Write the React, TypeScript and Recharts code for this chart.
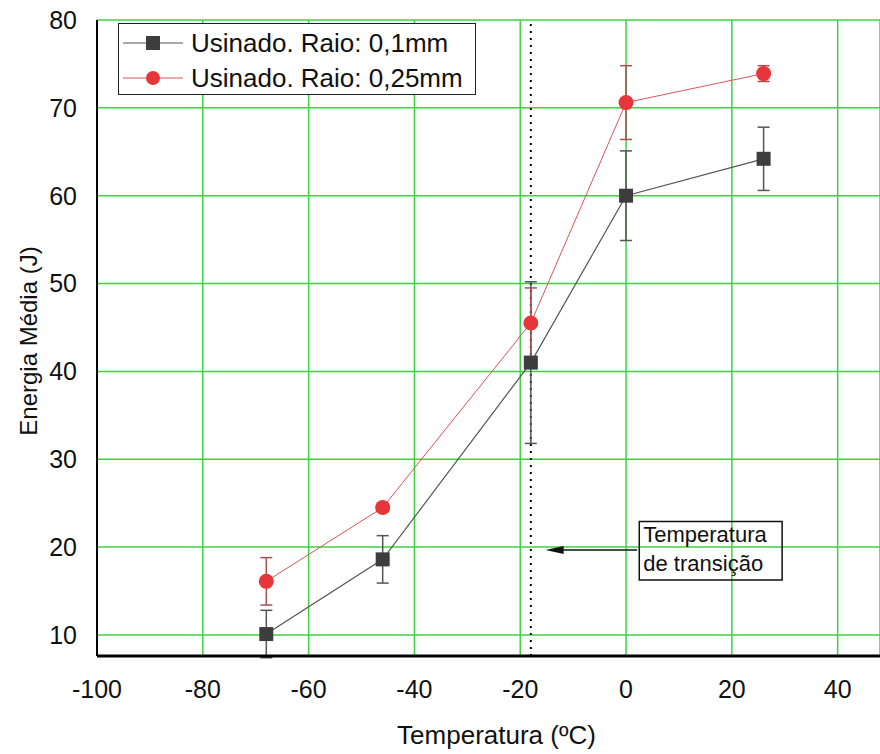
import React from 'react';
import { LineChart, Line, XAxis, YAxis, CartesianGrid, ErrorBar, ReferenceLine, ReferenceArea, Legend } from 'recharts';

const temps = [-68, -46, -18, 0, 26];
const energy01 = [10.1, 18.6, 41, 60, 64.2];
const err01 = [2.7, 2.7, 9.2, 5.1, 3.6];
const energy025 = [16.1, 24.5, 45.5, 70.6, 73.9];
const err025 = [2.7, 0.5, 4, 4.2, 0.9];
const xTicks = [-100, -80, -60, -40, -20, 0, 20, 40];
const yTicks = [10, 20, 30, 40, 50, 60, 70, 80];
const yGrid = [10, 20, 30, 40, 50, 60, 70];
const seriesNames = ['Usinado. Raio: 0,1mm', 'Usinado. Raio: 0,25mm'];
const transitionTemp = -18;
const noteLines = ['Temperatura', 'de transição'];

const data = temps.map((t, i) => ({ t, a: energy01[i], ea: err01[i], b: energy025[i], eb: err025[i] }));

const FONT = '"Liberation Sans", Arial, sans-serif';
const GREEN = '#3fd23f';
const DARK = '#3d3d3d';
const RED = '#e8353a';

const Square = (p: any) => {
  if (p.cx == null) return null;
  return <rect key={p.key} x={p.cx - 7} y={p.cy - 7} width={14} height={14} fill={DARK} />;
};
const Dot = (p: any) => {
  if (p.cx == null) return null;
  return <circle key={p.key} cx={p.cx} cy={p.cy} r={7.5} fill={RED} />;
};

const Arrow = (p: any) => {
  const { x1, y1, x2, y2 } = p;
  const tip = Math.min(x1, x2);
  const start = Math.max(x1, x2);
  return (
    <g>
      <line x1={start} y1={y1} x2={tip + 10} y2={y2} stroke="#111" strokeWidth={1.5} />
      <polygon points={`${tip},${y2} ${tip + 18},${y2 - 4} ${tip + 18},${y2 + 4}`} fill="#111" />
    </g>
  );
};

const LegendBox = () => (
  <div style={{ border: '1.5px solid #222', background: '#fff', width: 358, height: 72, boxSizing: 'border-box', fontFamily: FONT, fontSize: 26, color: '#111', paddingTop: 1 }}>
    {seriesNames.map((name, i) => (
      <div key={name} style={{ display: 'flex', alignItems: 'center', height: 35 }}>
        <svg width={70} height={20} style={{ flex: 'none' }}>
          <line x1={4} y1={10} x2={64} y2={10} stroke={i === 0 ? '#555' : '#d9545a'} strokeWidth={1.2} />
          {i === 0 ? <rect x={27} y={3} width={14} height={14} fill={DARK} /> : <circle cx={34} cy={10} r={7} fill={RED} />}
        </svg>
        <span style={{ marginLeft: 2, lineHeight: 1 }}>{name}</span>
      </div>
    ))}
  </div>
);

export default function App() {
  return (
    <div style={{ position: 'absolute', left: 0, top: 0, background: '#fff' }}>
      <LineChart width={880} height={754} data={data} margin={{ top: 20, right: 0, bottom: 0, left: 0 }} style={{ fontFamily: FONT }}>
        <XAxis
          type="number"
          dataKey="t"
          domain={[-100, 48]}
          ticks={xTicks}
          interval={0}
          allowDataOverflow
          height={98}
          axisLine={{ stroke: '#000', strokeWidth: 3 }}
          tickLine={false}
          tickSize={0}
          tickMargin={24}
          tick={{ fontSize: 25, fill: '#111' }}
          label={(props: any) => {
            const vb = props.viewBox || {};
            return (
              <text x={vb.x + vb.width / 2 + 8} y={744} textAnchor="middle" fontSize={26} fill="#111" fontFamily={FONT}>
                Temperatura (ºC)
              </text>
            );
          }}
        />
        <YAxis
          type="number"
          domain={[7.6, 80]}
          ticks={yTicks}
          interval={0}
          allowDataOverflow
          width={97}
          axisLine={{ stroke: '#000', strokeWidth: 2 }}
          tickLine={false}
          tickSize={0}
          tickMargin={20}
          tick={{ fontSize: 25, fill: '#111' }}
          label={(props: any) => {
            const vb = props.viewBox || {};
            const cx = 28;
            const cy = vb.y + vb.height / 2 + 3;
            return (
              <text x={cx} y={cy} transform={`rotate(-90, ${cx}, ${cy})`} textAnchor="middle" dominantBaseline="central" fontSize={24} fill="#111" fontFamily={FONT}>
                Energia Média (J)
              </text>
            );
          }}
        />
        <YAxis yAxisId="grid" type="number" domain={[7.6, 80]} ticks={yGrid} interval={0} allowDataOverflow hide />
        <CartesianGrid yAxisId="grid" stroke={GREEN} strokeWidth={1.5} />
        <ReferenceLine x={transitionTemp} stroke="#000" strokeWidth={2} strokeDasharray="2 5" />
        <ReferenceArea
          x1={2.5}
          x2={29.5}
          y1={16.25}
          y2={22.9}
          fill="none"
          fillOpacity={0}
          stroke="#111"
          strokeWidth={1.5}
          label={(props: any) => {
            const vb = props.viewBox || {};
            return (
              <g>
                {noteLines.map((s, i) => (
                  <text key={s} x={vb.x + 4} y={vb.y + 20 + i * 29} fontSize={22} fill="#111" fontFamily={FONT}>
                    {s}
                  </text>
                ))}
              </g>
            );
          }}
        />
        <ReferenceLine segment={[{ x: 2.1, y: 19.66 }, { x: -15.2, y: 19.66 }]} shape={Arrow} />
        <Line dataKey="a" name={seriesNames[0]} stroke="#555" strokeWidth={1.2} dot={Square} activeDot={false} isAnimationActive={false}>
          <ErrorBar dataKey="ea" direction="y" width={6} stroke="#555" strokeWidth={1.5} />
        </Line>
        <Line dataKey="b" name={seriesNames[1]} stroke="#d9545a" strokeWidth={1} dot={Dot} activeDot={false} isAnimationActive={false}>
          <ErrorBar dataKey="eb" direction="y" width={6} stroke="#a8504f" strokeWidth={1.5} />
        </Line>
        <Legend layout="vertical" align="center" verticalAlign="middle" content={LegendBox} wrapperStyle={{ left: 118, top: 23, width: 358, height: 72 }} />
      </LineChart>
    </div>
  );
}
